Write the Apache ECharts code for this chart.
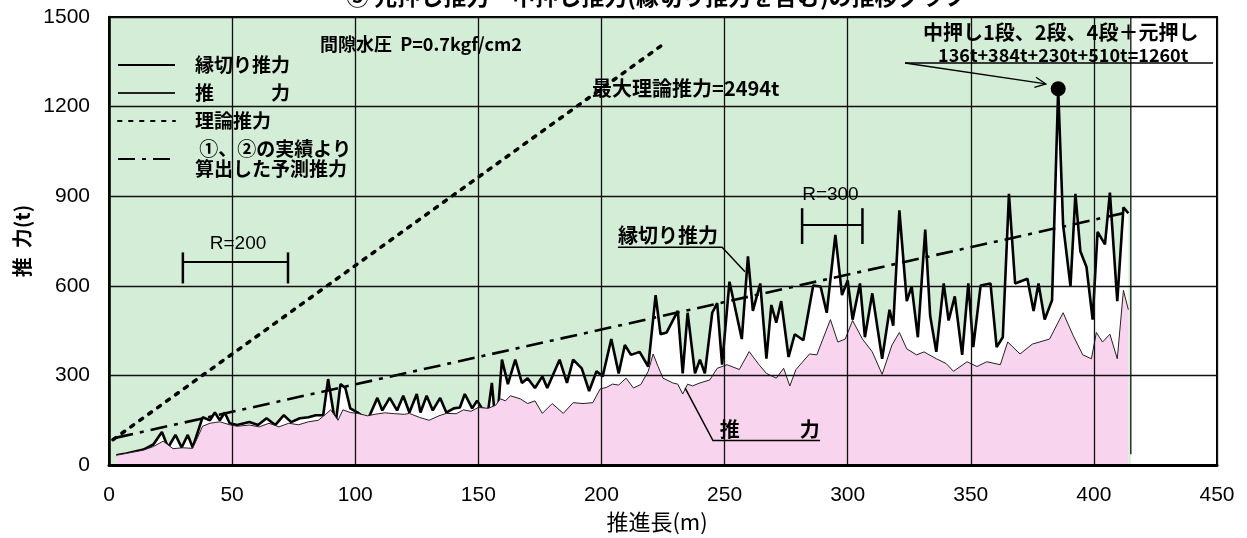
<!DOCTYPE html>
<html>
<head>
<meta charset="utf-8">
<script src="https://cdn.jsdelivr.net/npm/echarts@6/dist/echarts.min.js"></script>
<style>
html,body{margin:0;padding:0;background:#fff;}
#c{width:1247px;height:538px;}
</style>
</head>
<body>
<div id="c"></div>
<script>
// ---- data (推進長 m, 推力 t) ----
const edgeCutThrust = [
 [3,33],[7,39],[14,52],[18,69],[21.5,111],[24,59],[27,101],[29.5,59],[32,101],[34,59],[38,160],[41,150],[43,176],[45,150],[47,176],[49,140],[52,134],[57,144],[60.5,134],[64,157],[67.5,134],[71,167],[74,144],[77.5,157],[81,160],[84,167],[87,167],[89,288],[92,134],[94,271],[96,258],[98,190],[101,176],[105,150],[109,225],[111,183],[114,225],[117,183],[119.5,232],[122,176],[125,238],[126.5,176],[129,232],[131.5,183],[134.5,225],[137,176],[140,190],[142.5,193],[144.5,238],[147.5,190],[149.5,216],[151.5,190],[154,183],[155.5,275],[156.5,183],[158,183],[159.6,353],[162,271],[165,353],[167.7,275],[170,291],[173,258],[176,297],[178,258],[183,353],[186,275],[188.5,353],[192,324],[195,248],[198,314],[200.5,297],[204,422],[207,307],[209.5,402],[212,369],[215.5,379],[219,330],[222,569],[224,438],[226.5,444],[231,516],[233,307],[235,510],[238,307],[240,353],[242,307],[245,510],[247,542],[249,336],[252,614],[257,422],[259.5,699],[261.5,516],[264.5,608],[267,356],[269,536],[271,477],[273,549],[276,362],[278.5,438],[282,418],[286,601],[289,598],[291.5,510],[295,771],[297.7,569],[300,618],[302,487],[305,608],[307,428],[310,575],[314,356],[317,520],[318.5,467],[321,853],[324,549],[326,598],[328.5,428],[331.5,788],[333.5,500],[336,379],[339,608],[341,484],[343.5,565],[346.5,369],[349,608],[351,395],[354,601],[358,608],[360.5,395],[363,428],[365.5,908],[368,608],[373,624],[375.5,516],[377.5,608],[380,487],[383,552],[385.5,1260],[387.5,804],[390.5,598],[392.5,908],[394.5,716],[397,663],[399.5,487],[401.5,781],[404.5,739],[406.5,912],[409.5,549],[412,863],[414,843]
];
const thrust = [
 [3,33],[7,39],[14,50],[18,62],[22,80],[26,55],[30,58],[34,56],[38,130],[41,140],[45,145],[49,135],[52,130],[57,134],[61,128],[65,140],[69,128],[73,140],[77,135],[81,145],[85,150],[88,170],[90,185],[93,150],[95,185],[98,176],[101,173],[105,165],[108,170],[112,175],[116,172],[120,170],[122,173],[126,160],[130,150],[134,165],[137,173],[141,172],[144,185],[147,180],[150,193],[154,190],[157,200],[159,222],[161,215],[163,232],[167,222],[170,206],[173,215],[176,173],[180,206],[184.5,173],[188.5,209],[192.5,206],[196.5,209],[199.5,255],[202,260],[204.5,271],[207,268],[210,291],[213,258],[216,270],[219,314],[221,372],[223,330],[225,291],[229,275],[231,271],[233,238],[235,271],[237,265],[240,275],[244,285],[247,324],[251,336],[256,320],[260,380],[264,336],[267,307],[271,291],[274,324],[276.5,265],[279,320],[284.5,372],[287.5,369],[289,402],[293,487],[296,412],[299,422],[302,484],[306,422],[310,379],[314,304],[318,402],[321,444],[324,389],[328,369],[331,379],[336,356],[340,340],[343,314],[348.5,346],[352.5,330],[356.5,346],[362,336],[365,412],[370,372],[375,405],[382,422],[387.5,510],[391.5,435],[395.5,369],[399,356],[401,444],[403.5,412],[406.5,438],[409.5,356],[412,585],[414,520]
];
const theoreticalThrust = [[1.6,85],[225,1408]];
const predictedThrust = [[3,92],[414,847]];
const peakPoint = [385.5,1260];
const dataEnd = 415;
const endLine = [[415,36],[415,1500]];
const xTicks = {min:0, max:450, interval:50};
const yTicks = {min:0, max:1500, interval:300};
const seriesNames = ['縁切り推力','推　　　力','理論推力',' ①、②の実績より\n算出した予測推力'];

const JP = "'Noto Sans CJK JP','Noto Sans',sans-serif";
const NUM = "'Liberation Sans',Arial,sans-serif";
const GREEN = '#d4edd6';
const PINK = '#f9d4ee';

const chart = echarts.init(document.getElementById('c'));
chart.setOption({
  animation:false,
  backgroundColor:'#fff',
  grid:{left:109, top:17, right:30, bottom:62, show:true, borderColor:'#000', borderWidth:2, backgroundColor:'#fff'},
  legend:{
    orient:'vertical', left:112, top:50, itemWidth:57, itemHeight:14, itemGap:8,
    data:seriesNames,
    itemStyle:{opacity:0},
    textStyle:{fontFamily:JP, fontSize:19, fontWeight:'bold', color:'#000', lineHeight:20, padding:[0,0,0,15]},
    selectedMode:false
  },
  xAxis:{
    type:'value', min:xTicks.min, max:xTicks.max, interval:xTicks.interval, z:10,
    axisLine:{show:true, onZero:false, lineStyle:{color:'#000', width:3}},
    axisTick:{show:false},
    splitLine:{show:true, lineStyle:{color:'#111', width:1.3}},
    axisLabel:{color:'#000', fontFamily:NUM, fontSize:21, margin:20, formatter:v=>String(v)},
    name:'推進長(m)', nameLocation:'middle', nameGap:40,
    nameTextStyle:{fontFamily:JP, fontSize:22, color:'#000', padding:[0,12,0,0]}
  },
  yAxis:{
    type:'value', min:yTicks.min, max:yTicks.max, interval:yTicks.interval, z:10,
    axisLine:{show:true, lineStyle:{color:'#000', width:2.5}},
    axisTick:{show:false},
    splitLine:{show:true, lineStyle:{color:'#111', width:1.3}},
    axisLabel:{color:'#000', fontFamily:NUM, fontSize:21, margin:19, formatter:v=>String(v)},
    name:'推  力(t)', nameLocation:'middle', nameGap:72, nameRotate:90,
    nameTextStyle:{fontFamily:JP, fontSize:20, fontWeight:'bold', color:'#000'}
  },
  series:[
    {
      name:'bg', type:'line', data:[], z:1, silent:true,
      markArea:{silent:true, itemStyle:{color:GREEN}, data:[[{coord:[0,0]},{coord:[dataEnd,1500]}]]}
    },
    {
      name:'endline', type:'line', data:endLine, z:7, silent:true, symbol:'none',
      lineStyle:{color:'#111', width:1.3}
    },
    {
      name:seriesNames[0], type:'line', data:edgeCutThrust, z:3, symbol:'none', smooth:false,
      lineStyle:{color:'#000', width:2.6}, itemStyle:{color:'#000'},
      areaStyle:{color:'#fff', opacity:1},
      markPoint:{silent:true, symbol:'circle', symbolSize:15, itemStyle:{color:'#000'}, label:{show:false},
        data:[{coord:peakPoint}]}
    },
    {
      name:seriesNames[1], type:'line', data:thrust, z:4, symbol:'none',
      lineStyle:{color:'#222', width:1}, itemStyle:{color:'#222'},
      areaStyle:{color:PINK, opacity:1}
    },
    {
      name:seriesNames[2], type:'line', data:theoreticalThrust, z:6, symbol:'none',
      lineStyle:{color:'#000', width:3.5, type:[3.5,7.5], cap:'round'}, itemStyle:{color:'#000'}
    },
    {
      name:seriesNames[3], type:'line', data:predictedThrust, z:6, symbol:'none',
      lineStyle:{color:'#000', width:2.6, type:[17,7,4,7]}, itemStyle:{color:'#000'}
    }
  ]
});

// annotations anchored in data coordinates
function P(x,y){ return chart.convertToPixel({gridIndex:0},[x,y]); }
const g = [];
function txt(x,y,text,opt){
  const p = P(x,y);
  g.push({type:'text', x:p[0], y:p[1], z:50, style:Object.assign({text:text, fill:'#000', font:'bold 17px '+JP, textVerticalAlign:'middle', textAlign:'left'}, opt||{})});
}
function poly(pts,w){
  g.push({type:'polyline', z:50, shape:{points:pts.map(a=>P(a[0],a[1]))}, style:{stroke:'#000', lineWidth:w||1.5, fill:null}});
}
// title (clipped at top of image)
g.push({type:'text', left:346, top:-15, z:50, style:{text:'③ 元押し推力・中押し推力(縁切り推力を含む)の推移グラフ', fill:'#000', font:'bold 23px '+JP}});
txt(85.7,1408,'間隙水圧  P=0.7kgf/cm2',{font:'bold 18px '+JP});
txt(196.2,1261,'最大理論推力=2494t',{font:'bold 20px '+JP});
txt(330.6,1450,'中押し1段、2段、4段＋元押し',{font:'bold 20px '+JP});
txt(336.7,1371,'136t+384t+230t+510t=1260t',{font:'bold 18px '+JP});
poly([[323.3,1346],[448.4,1346]],1.5);
// arrow
(function(){
  const a = P(323.3,1346), b = P(380.5,1276);
  g.push({type:'line', z:50, shape:{x1:a[0],y1:a[1],x2:b[0],y2:b[1]}, style:{stroke:'#000', lineWidth:1.3}});
  const ang = Math.atan2(b[1]-a[1], b[0]-a[0]), L=12;
  g.push({type:'polyline', z:50, shape:{points:[[b[0]-L*Math.cos(ang-0.45), b[1]-L*Math.sin(ang-0.45)],[b[0],b[1]],[b[0]-L*Math.cos(ang+0.45), b[1]-L*Math.sin(ang+0.45)]]}, style:{stroke:'#000', lineWidth:1.3, fill:null}});
})();
// R=200 bracket
txt(52.4,742,'R=200',{font:'19px '+NUM, textAlign:'center'});
poly([[30,680],[72.7,680]],2);
poly([[30,712],[30,608]],2.5);
poly([[72.7,712],[72.7,608]],2.5);
// R=300 bracket
txt(293,905,'R=300',{font:'19px '+NUM, textAlign:'center'});
poly([[281.5,804],[306,804]],2);
poly([[281.5,860],[281.5,740]],2.5);
poly([[306,860],[306,740]],2.5);
// 縁切り推力 callout
txt(206.7,768,'縁切り推力',{font:'bold 20px '+JP});
poly([[206.7,729],[249,729],[258.3,647]],1.5);
// 推 力 callout
txt(248,120,'推　　　力',{font:'bold 20px '+JP});
poly([[234,258],[245.3,82],[288.8,82]],1.5);
chart.setOption({graphic:g});
</script>
</body>
</html>
